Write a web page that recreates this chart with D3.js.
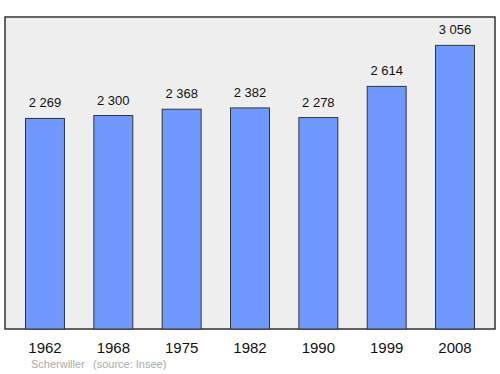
<!DOCTYPE html>
<html>
<head>
<meta charset="utf-8">
<script src="https://cdn.jsdelivr.net/npm/d3@7"></script>
<style>
  body { margin: 0; background: #fff; }
  text { font-family: "Liberation Sans", Arial, sans-serif; }
</style>
</head>
<body>
<div id="chart"></div>
<script>
var years = ["1962", "1968", "1975", "1982", "1990", "1999", "2008"];
var population = [2269, 2300, 2368, 2382, 2278, 2614, 3056];
var valueLabels = ["2 269", "2 300", "2 368", "2 382", "2 278", "2 614", "3 056"];

(function() {
	var width = 500, height = 374;
	var plot = { left: 5, top: 17, right: 495, bottom: 329 };

	var svg = d3.select("#chart")
		.append("svg")
		.attr("width", width)
		.attr("height", height);

	var xScale = d3.scaleBand().domain(years)
		.range([plot.left, plot.right])
		.paddingInner(0.43).paddingOuter(0.3);

	var yScale = d3.scaleLinear().domain([0, 3056 * 1.1])
		.range([plot.bottom, plot.top]);

	// frame
	svg.append("rect")
		.attr("x", plot.left)
		.attr("y", plot.top)
		.attr("width", plot.right - plot.left)
		.attr("height", plot.bottom - plot.top)
		.attr("fill", "#eeeeee")
		.attr("stroke", "#333")
		.attr("stroke-width", 1.5);

	svg.selectAll("rect.bar")
		.data(population)
		.enter()
		.append("rect")
		.attr("class", "bar")
		.attr("x", function(d, i) { return xScale(years[i]); })
		.attr("y", function(d) { return yScale(d); })
		.attr("width", xScale.bandwidth())
		.attr("height", function(d) { return plot.bottom - yScale(d); })
		.attr("fill", "#7099ff")
		.attr("stroke", "#333")
		.attr("stroke-width", 1);

	svg.selectAll("text.val")
		.data(population)
		.enter()
		.append("text")
		.attr("class", "val")
		.attr("x", function(d, i) { return xScale(years[i]) + xScale.bandwidth() / 2; })
		.attr("y", function(d) { return yScale(d) - 11; })
		.attr("text-anchor", "middle")
		.attr("font-size", 13)
		.attr("fill", "#111")
		.text(function(d, i) { return valueLabels[i]; });

	var xAxis = d3.axisBottom(xScale).tickSize(0).tickPadding(0);
	var gx = svg.append("g")
		.attr("transform", "translate(0," + plot.bottom + ")")
		.call(xAxis);
	gx.select(".domain").remove();
	gx.selectAll("text")
		.attr("y", 24)
		.attr("dy", 0)
		.attr("font-size", 15)
		.attr("font-family", "Liberation Sans, Arial, sans-serif")
		.attr("fill", "#111");

	svg.append("text")
		.attr("x", 31)
		.attr("y", 368)
		.attr("font-size", 11)
		.attr("fill", "#aaa")
		.text("Scherwiller");
	svg.append("text")
		.attr("x", 93)
		.attr("y", 368)
		.attr("font-size", 11)
		.attr("fill", "#aaa")
		.text("(source: Insee)");
})();
</script>
</body>
</html>
